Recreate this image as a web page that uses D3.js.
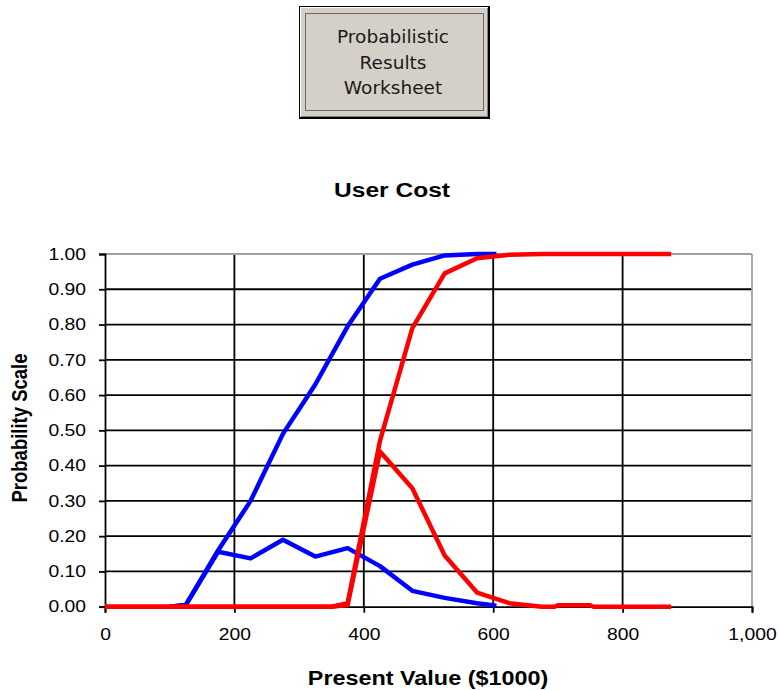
<!DOCTYPE html>
<html>
<head>
<meta charset="utf-8">
<script src="https://cdn.jsdelivr.net/npm/d3@7"></script>
<style>
  html, body { margin: 0; padding: 0; background: #ffffff; }
  svg { display: block; }
</style>
</head>
<body>
<script>
// ---------- data ----------
const buttonLines = ["Probabilistic", "Results", "Worksheet"];
const chartTitle = "User Cost";
const xAxisTitle = "Present Value ($1000)";
const yAxisTitle = "Probability Scale";

const xTicks = [0, 200, 400, 600, 800, 1000];
const yTicks = [0, 0.1, 0.2, 0.3, 0.4, 0.5, 0.6, 0.7, 0.8, 0.9, 1.0];

const blueX   = [100, 125, 175, 225, 275, 325, 375, 425, 475, 525, 575, 605];
const blueCdf = [0, 0.005, 0.16, 0.30, 0.49, 0.63, 0.795, 0.93, 0.97, 0.996, 1.0, 1.0];
const bluePdf = [0, 0.005, 0.156, 0.137, 0.19, 0.142, 0.166, 0.115, 0.045, 0.025, 0.01, 0.003];

const redX   = [0, 325, 350, 375, 425, 475, 525, 575, 625, 675, 695, 700, 750, 755, 875];
const redCdf = [0, 0, 0, 0.01, 0.47, 0.79, 0.945, 0.988, 0.998, 1.0, 1.0, 1.0, 1.0, 1.0, 1.0];
const redPdf = [0, 0, 0, 0.005, 0.44, 0.336, 0.145, 0.04, 0.01, 0, 0, 0.004, 0.004, 0, 0];

// ---------- layout ----------
const W = 778, H = 690;
const plot = { left: 105, right: 752, top: 254, bottom: 606.7 };
const STRETCH = 1.17;

const svg = d3.select("body").append("svg")
  .attr("width", W).attr("height", H)
  .style("font-family", "'Liberation Sans', Arial, sans-serif");

// ---------- button ----------
const btn = svg.append("g");
btn.append("rect").attr("x", 299).attr("y", 6).attr("width", 191).attr("height", 113).attr("fill", "#000");
btn.append("rect").attr("x", 300).attr("y", 7).attr("width", 188).attr("height", 110).attr("fill", "#ffffff");
btn.append("rect").attr("x", 301).attr("y", 8).attr("width", 187).attr("height", 109).attr("fill", "#808080");
btn.append("rect").attr("x", 301).attr("y", 8).attr("width", 186).attr("height", 108).attr("fill", "#d4d0c8");
btn.append("rect").attr("x", 305.5).attr("y", 13.5).attr("width", 178).attr("height", 97)
  .attr("fill", "none").attr("stroke", "#000").attr("stroke-width", 1).attr("stroke-dasharray", "1,1");
btn.selectAll("text.btn").data(buttonLines).join("text")
  .attr("class", "btn")
  .attr("transform", (d, i) => `translate(393,${43 + i * 25.5}) scale(1.06,1)`)
  .attr("text-anchor", "middle")
  .style("font-family", "'DejaVu Sans', Tahoma, sans-serif")
  .style("font-size", "17.5px")
  .attr("fill", "#1a1a1a")
  .text(d => d);

// ---------- scales ----------
const x = d3.scaleLinear().domain([0, 1000]).range([plot.left, plot.right]);
const y = d3.scaleLinear().domain([0, 1]).range([plot.bottom, plot.top]);

// ---------- grid ----------
const grid = svg.append("g");
grid.selectAll("line.h").data(yTicks.filter(v => v > 0 && v < 1)).join("line")
  .attr("x1", plot.left).attr("x2", plot.right)
  .attr("y1", d => y(d)).attr("y2", d => y(d))
  .attr("stroke", "#000").attr("stroke-width", 1.8);
grid.selectAll("line.v").data(xTicks.filter(v => v > 0 && v < 1000)).join("line")
  .attr("y1", plot.top).attr("y2", plot.bottom)
  .attr("x1", d => x(d)).attr("x2", d => x(d))
  .attr("stroke", "#000").attr("stroke-width", 1.8);
grid.append("line").attr("x1", plot.left).attr("x2", plot.right).attr("y1", plot.top).attr("y2", plot.top)
  .attr("stroke", "#a0a0a0").attr("stroke-width", 1.8);
grid.append("line").attr("x1", plot.right).attr("x2", plot.right).attr("y1", plot.top).attr("y2", plot.bottom)
  .attr("stroke", "#a0a0a0").attr("stroke-width", 1.8);

// ---------- axes ----------
const yAxis = d3.axisLeft(y).tickValues(yTicks).tickFormat(d3.format(".2f")).tickSize(6).tickPadding(13);
const xAxis = d3.axisBottom(x).tickValues(xTicks).tickFormat(d3.format(",")).tickSize(6).tickPadding(16);

const gy = svg.append("g").attr("transform", `translate(${plot.left},0)`).call(yAxis);
const gx = svg.append("g").attr("transform", `translate(0,${plot.bottom})`).call(xAxis);
[gy, gx].forEach(g => {
  g.select(".domain").attr("stroke", "#000").attr("stroke-width", 1.8);
  g.selectAll(".tick line").attr("stroke", "#000").attr("stroke-width", 1.8);
  g.selectAll(".tick text")
    .attr("fill", "#000")
    .style("font-family", "'Liberation Sans', Arial, sans-serif")
    .style("font-size", "16.5px");
  g.selectAll(".tick text").each(function () {
    const w = this.getComputedTextLength();
    d3.select(this).attr("textLength", w * STRETCH).attr("lengthAdjust", "spacingAndGlyphs");
  });
});

// ---------- series ----------
const line = d3.line().x(d => x(d[0])).y(d => y(d[1]));
const series = [
  { xs: blueX, ys: blueCdf, color: "#0000ff" },
  { xs: blueX, ys: bluePdf, color: "#0000ff" },
  { xs: redX, ys: redCdf, color: "#ff0000" },
  { xs: redX, ys: redPdf, color: "#ff0000" }
];
svg.append("g").selectAll("path").data(series).join("path")
  .attr("d", s => line(s.xs.map((v, i) => [v, s.ys[i]])))
  .attr("fill", "none")
  .attr("stroke", s => s.color)
  .attr("stroke-width", 4.5)
  .attr("stroke-linejoin", "round");

// ---------- titles ----------
svg.append("text")
  .attr("transform", `translate(392,197) scale(${STRETCH},1)`)
  .attr("text-anchor", "middle")
  .style("font-size", "21px").style("font-weight", "bold")
  .attr("fill", "#000")
  .text(chartTitle);

svg.append("text")
  .attr("transform", `translate(428,685) scale(${STRETCH},1)`)
  .attr("text-anchor", "middle")
  .style("font-size", "20px").style("font-weight", "bold")
  .attr("fill", "#000")
  .text(xAxisTitle);

svg.append("text")
  .attr("transform", `translate(27,428) scale(${STRETCH},1) rotate(-90)`)
  .attr("text-anchor", "middle")
  .style("font-size", "18.5px").style("font-weight", "bold")
  .attr("fill", "#000")
  .text(yAxisTitle);
</script>
</body>
</html>
